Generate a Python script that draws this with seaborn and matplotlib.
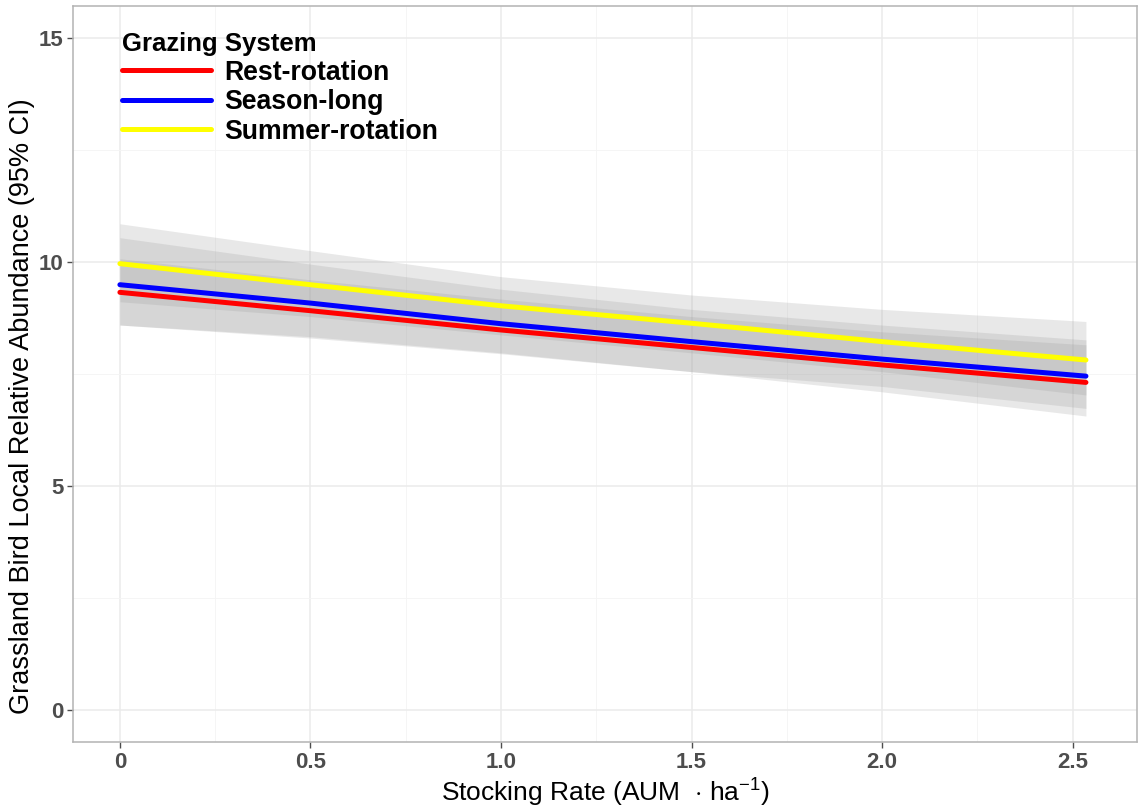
import numpy as np
import pandas as pd
import matplotlib
matplotlib.use("Agg")
import matplotlib.pyplot as plt
from matplotlib.ticker import MultipleLocator, FuncFormatter
import seaborn as sns

# Predicted abundance along stocking rate, by grazing system
stocking_rate = [0.0, 0.5, 1.0, 1.5, 2.0, 2.535]
systems = ["Rest-rotation", "Season-long", "Summer-rotation"]

rest_fit = [9.32, 8.91, 8.48, 8.09, 7.70, 7.31]
rest_lo = [8.59, 8.30, 7.95, 7.55, 7.22, 6.73]
rest_hi = [10.07, 9.60, 9.17, 8.78, 8.44, 8.15]

season_fit = [9.49, 9.08, 8.62, 8.22, 7.83, 7.45]
season_lo = [8.59, 8.33, 7.97, 7.55, 7.10, 6.56]
season_hi = [10.54, 9.95, 9.39, 8.94, 8.59, 8.26]

summer_fit = [9.96, 9.49, 9.02, 8.63, 8.22, 7.81]
summer_lo = [9.11, 8.78, 8.37, 7.97, 7.55, 7.03]
summer_hi = [10.85, 10.25, 9.67, 9.26, 8.94, 8.67]

colors = {"Rest-rotation": "#ff0000", "Season-long": "#0000ff", "Summer-rotation": "#ffff00"}

frames = []
for name, fit, lo, hi in [
    ("Rest-rotation", rest_fit, rest_lo, rest_hi),
    ("Season-long", season_fit, season_lo, season_hi),
    ("Summer-rotation", summer_fit, summer_lo, summer_hi),
]:
    frames.append(pd.DataFrame({"rate": stocking_rate, "fit": fit, "lo": lo, "hi": hi, "system": name}))
df = pd.concat(frames, ignore_index=True)

sns.set_theme(style="white")
plt.rcParams["font.family"] = ["Liberation Sans", "DejaVu Sans"]
plt.rcParams["mathtext.fontset"] = "custom"
plt.rcParams["mathtext.rm"] = "Liberation Sans"

fig = plt.figure(figsize=(11.41, 8.08), dpi=100)
ax = fig.add_axes([0.064, 0.0817, 0.9325, 0.9109])

# confidence ribbons
for name in systems:
    sub = df[df["system"] == name]
    ax.fill_between(sub["rate"], sub["lo"], sub["hi"], color="#999999", alpha=0.22,
                    linewidth=0, zorder=2)

sns.lineplot(data=df, x="rate", y="fit", hue="system", hue_order=systems,
             palette=colors, linewidth=3.6, ax=ax, zorder=3)

ax.set_xlim(-0.123, 2.669)
ax.set_ylim(-0.714, 15.71)
ax.xaxis.set_major_locator(MultipleLocator(0.5))
ax.xaxis.set_minor_locator(MultipleLocator(0.25))
ax.yaxis.set_major_locator(MultipleLocator(5))
ax.yaxis.set_minor_locator(MultipleLocator(2.5))
ax.grid(which="major", color="#ebebeb", linewidth=1.1, zorder=0)
ax.grid(which="minor", color="#f4f4f4", linewidth=0.6, zorder=0)
ax.set_axisbelow(True)

for s in ax.spines.values():
    s.set_color("#b3b3b3")
    s.set_linewidth(1.1)

ax.tick_params(axis="both", which="major", length=4, width=1, color="#4d4d4d",
               labelsize=16, labelcolor="#4d4d4d", bottom=True, left=True, pad=3)
ax.tick_params(axis="both", which="minor", length=0)
ax.xaxis.set_major_formatter(FuncFormatter(lambda v, p: "0" if abs(v) < 1e-9 else f"{v:.1f}"))
ax.yaxis.set_major_formatter(FuncFormatter(lambda v, p: f"{v:.0f}"))
for lab in ax.get_xticklabels() + ax.get_yticklabels():
    lab.set_fontweight("bold")

ax.set_xlabel(r"Stocking Rate (AUM  $\cdot$ ha$^{-1}$)", fontsize=19, color="black", labelpad=2)
ax.set_ylabel("Grassland Bird Local Relative Abundance (95% CI)", fontsize=19.5, color="black")
ax.yaxis.set_label_coords(-0.036, 0.456)

handles, labels = ax.get_legend_handles_labels()
leg = ax.legend(handles, labels, title="Grazing System", loc="upper left",
                bbox_to_anchor=(0.031, 0.986), frameon=False,
                prop={"weight": "bold", "size": 19.2},
                title_fontproperties={"weight": "bold", "size": 18.5},
                handlelength=3.35, handletextpad=0.5, labelspacing=0.13,
                borderaxespad=0.2)
leg._legend_box.align = "left"
leg.get_title().set_color("black")
for t in leg.get_texts():
    t.set_color("black")
for line in leg.get_lines():
    line.set_linewidth(3.6)

fig.savefig("out.png", dpi=100)
